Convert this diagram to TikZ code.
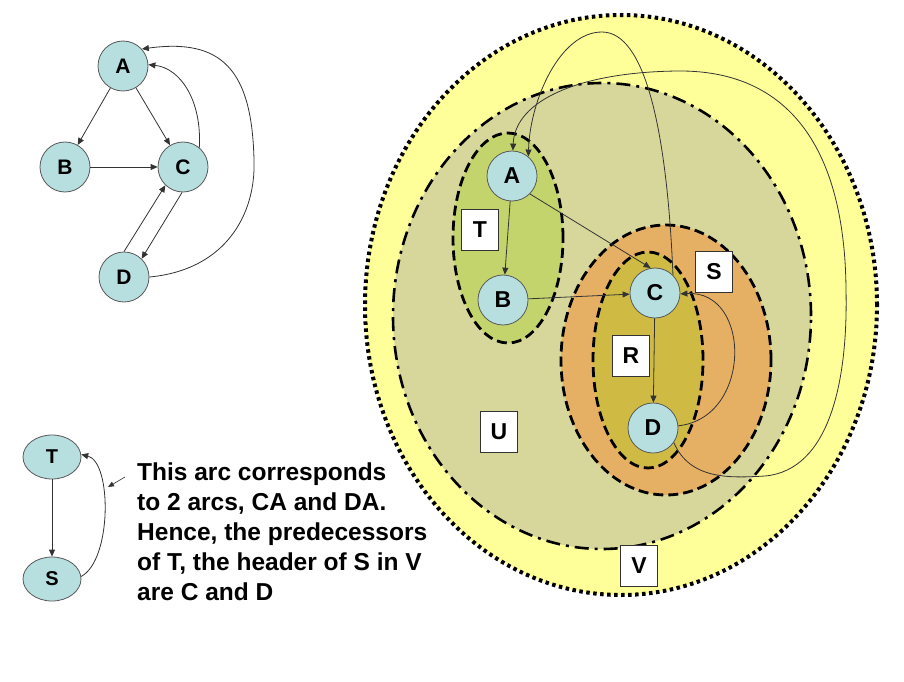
\documentclass[tikz,border=0pt]{standalone}
\usepackage{fontspec}
\setmainfont{Liberation Sans}
\usetikzlibrary{arrows.meta,shapes.geometric}
\definecolor{nodeblue}{HTML}{B7DFE0}
\definecolor{vyellow}{HTML}{FFFF99}
\definecolor{ufill}{HTML}{D8D79B}
\definecolor{tgreen}{HTML}{C4D46C}
\definecolor{sorange}{HTML}{E6B064}
\definecolor{rolive}{HTML}{CFBB44}
\definecolor{edgegray}{HTML}{333333}
\begin{document}
\begin{tikzpicture}[x=1pt,y=-1pt,
  gnode/.style={circle,draw=black!65,line width=0.8pt,fill=nodeblue,minimum size=50pt,inner sep=0pt,font=\fontsize{21}{21}\selectfont\bfseries},
  gnodebig/.style={gnode,font=\fontsize{23}{23}\selectfont\bfseries},
  snode/.style={ellipse,draw=black!65,line width=0.8pt,fill=nodeblue,minimum width=58pt,minimum height=44pt,inner sep=0pt,font=\fontsize{20}{20}\selectfont\bfseries},
  tagbox/.style={draw=black!80,line width=0.8pt,fill=white,minimum width=37pt,minimum height=41pt,inner sep=0pt,font=\fontsize{23}{23}\selectfont\bfseries},
  link/.style={draw=edgegray,line width=0.8pt,-{Triangle[length=7pt,width=6pt]}},
  zonedash/.style={draw=black,line width=2.8pt,dash pattern=on 10pt off 5pt},
]
\useasboundingbox (0,0) rectangle (904,682);

% regions
\path[fill=vyellow,draw=black,line width=4pt,dash pattern=on 3.5pt off 3.5pt] (621,305) ellipse [x radius=256pt,y radius=290pt];
\path[fill=ufill,draw=black,line width=2.6pt,dash pattern=on 14pt off 6pt on 3pt off 6pt] (602,316) ellipse [x radius=209pt,y radius=233pt];
\path[fill=tgreen,zonedash] (508,238) ellipse [x radius=55pt,y radius=105pt];
\path[fill=sorange,zonedash] (666,360) ellipse [x radius=105pt,y radius=135pt];
\path[fill=rolive,zonedash] (648,360) ellipse [x radius=55pt,y radius=108pt];

% left graph
\node[gnode] (a1) at (123,66) {A};
\node[gnode] (b1) at (65,167) {B};
\node[gnode] (c1) at (183,167) {C};
\node[gnode] (d1) at (124,277) {D};
\draw[link] (a1) -- (b1);
\draw[link] (a1) -- (c1);
\draw[link] (b1) -- (c1);
\draw[link] (d1.90) -- (c1.226);
\draw[link] (c1.268) -- (d1.46);
\draw[link] (c1.50) .. controls (202,100) and (180,68) .. (a1.3);
\draw[link] (d1.0) .. controls (225,270) and (256,215) .. (254,160) .. controls (252,70) and (222,38) .. (a1.42);

% right graph
\node[gnodebig] (a2) at (512,176) {A};
\node[gnodebig] (b2) at (503,300) {B};
\node[gnodebig] (c2) at (655,293) {C};
\node[gnodebig] (d2) at (653,428) {D};
\draw[link] (a2) -- (b2);
\draw[link] (a2.-45) -- (c2.100);
\draw[link] (b2) -- (c2);
\draw[link] (c2) -- (d2);
\draw[link] (d2.5) .. controls (752,418) and (752,290) .. (c2.-2);
\draw[link] (c2.45) .. controls (667,130) and (645,32) .. (602,32) .. controls (560,32) and (530,100) .. (a2.50);
\draw[link] (d2.-35) .. controls (690,480) and (730,478) .. (765,476) .. controls (830,470) and (848,380) .. (846,290) .. controls (845,150) and (790,70) .. (678,71) .. controls (580,72) and (515,100) .. (a2.88);

% labels
\node[tagbox] (lt) at (480,230) {T};
\node[tagbox] (ls) at (714,272) {S};
\node[tagbox] (lr) at (631,356) {R};
\node[tagbox] (lu) at (499,432) {U};
\node[tagbox] (lv) at (639,566) {V};

% reduced graph
\node[snode] (t3) at (52,457) {T};
\node[snode] (s3) at (52,579) {S};
\draw[link] (t3) -- (s3);
\draw[link] (s3.5) .. controls (112,560) and (112,462) .. (t3.5);
\coordinate (ptail) at (125,477);
\coordinate (phead) at (108,487);
\draw[draw=edgegray,line width=0.6pt,-{Triangle[length=6pt,width=5pt]}] (ptail) -- (phead);
\node[anchor=north west,align=left,inner sep=0pt,font=\fontsize{24.5}{30}\selectfont\bfseries] (note) at (137,463) {This arc corresponds\\to 2 arcs, CA and DA.\\Hence, the predecessors\\of T, the header of S in V\\are C and D};
\end{tikzpicture}
\end{document}
